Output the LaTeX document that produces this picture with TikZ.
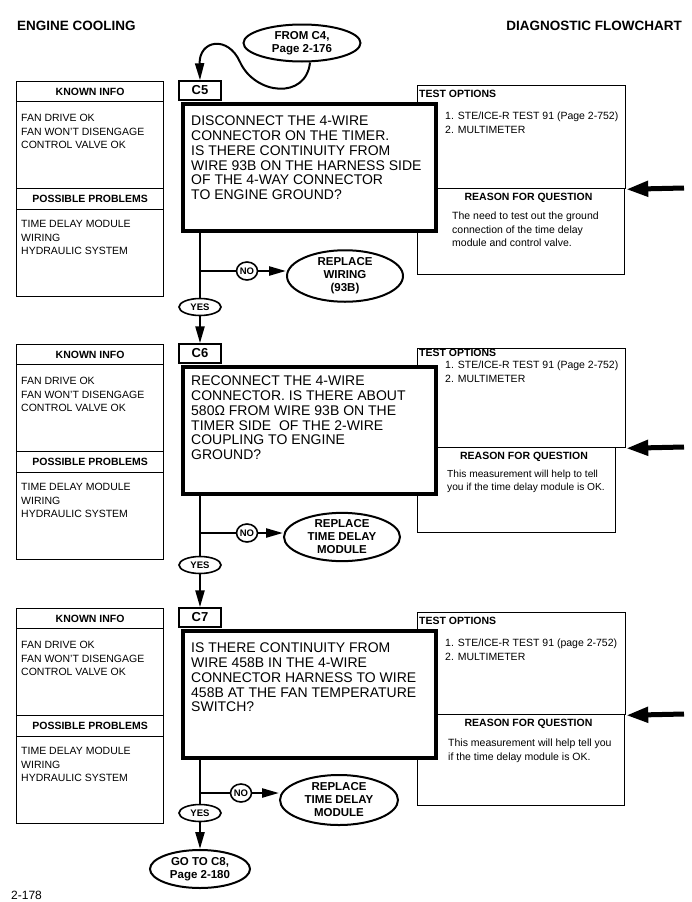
\documentclass[tikz,border=0pt]{standalone}
\usepackage{fontspec}
\setmainfont{Liberation Sans}
\usetikzlibrary{shapes.geometric,arrows.meta}

\begin{document}
\begin{tikzpicture}[x=1pt,y=-1pt,
    infobox/.style={draw, line width=1.3pt, inner sep=0pt, anchor=north west},
    hdrbox/.style={infobox, font=\bfseries\fontsize{10.5}{12}\selectfont},
    smalltxt/.style={anchor=north west, inner sep=0pt, align=left, font=\fontsize{10.5}{13.5}\selectfont},
    boldtxt/.style={inner sep=0pt, font=\bfseries\fontsize{10.5}{12}\selectfont},
    headline/.style={inner sep=0pt, font=\bfseries\fontsize{13.5}{14}\selectfont},
    clabel/.style={draw, line width=1.5pt, minimum width=42pt, minimum height=19pt, inner sep=0pt, font=\bfseries\fontsize{13}{13}\selectfont},
    qbox/.style={draw, line width=4pt, fill=white, anchor=north west, inner sep=0pt, minimum width=253pt, minimum height=127pt},
    qtext/.style={anchor=north west, inner sep=0pt, align=left, font=\fontsize{14}{14.7}\selectfont},
    oval/.style={draw, ellipse, line width=2pt, inner sep=0pt, align=center, font=\bfseries\fontsize{11.5}{13}\selectfont},
    yesno/.style={draw, ellipse, line width=1.6pt, inner sep=0pt, font=\bfseries\fontsize{9.5}{10}\selectfont},
    wire/.style={line width=2.4pt},
    arr/.style={wire, -{Triangle[length=17pt,width=9pt]}},
    bigarr/.style={line width=5pt, -{Triangle[length=22pt,width=15pt]}}]
\useasboundingbox (0,0) rectangle (692,902);
\fill[white] (0,0) rectangle (692,902);
\clip (0,0) rectangle (692,902);

% page heading
\node[headline, anchor=west] (ttl) at (17,26) {ENGINE COOLING};
\node[headline, anchor=east] (ttr) at (682,26) {DIAGNOSTIC FLOWCHART};

% frames shared by the three steps
\foreach \n/\t/\w/\m/\h/\s in {5/81/207/107/86/13, 6/344/198/103/85/9, 7/608/207/106/91/13}{
  \node[hdrbox, minimum width=147pt, minimum height=20pt] (kh\n) at (16,\t) {KNOWN INFO};
  \node[infobox, minimum width=147pt, minimum height=87pt] (kb\n) at (16,{\t+20}) {};
  \node[hdrbox, minimum width=147pt, minimum height=21pt] (ph\n) at (16,{\t+107}) {POSSIBLE PROBLEMS};
  \node[infobox, minimum width=147pt, minimum height=87pt] (pb\n) at (16,{\t+128}) {};
  \node[smalltxt] (kt\n) at (21,{\t+33}) {FAN DRIVE OK\\FAN WON'T DISENGAGE\\CONTROL VALVE OK};
  \node[smalltxt] (pt\n) at (21,{\t+139}) {TIME DELAY MODULE\\WIRING\\HYDRAULIC SYSTEM};
  \node[infobox, minimum width=208pt, minimum height={(\m-4)*1pt}] (to\n) at (417,{\t+4}) {};
  \node[infobox, minimum width={\w*1pt}, minimum height={\h*1pt}] (rq\n) at (417,{\t+\m}) {};
  \node[boldtxt, anchor=west] (tl\n) at (419,{\t+\s}) {TEST OPTIONS};
  \node[boldtxt] (rl\n) at ({417+\w/2+8},{\t+\m+10}) {REASON FOR QUESTION};
  \node[qbox] (q\n) at (181,{\t+21}) {};
  \node[clabel] (c\n) at (200,{\t+9.5}) {C\n};
  \coordinate (ra\n) at (684,{\t+\m});
  \draw[bigarr] (ra\n) -- (to\n.south east);
}

% entry
\node[oval, minimum width=117pt, minimum height=37pt] (from) at (302,43) {FROM C4,\\Page 2-176};
\draw[line width=2pt, -{Triangle[length=17pt,width=9pt]}] ([xshift=8pt]from.south)
  .. controls (306,100) and (255,95) .. (240,62)
  .. controls (228,35) and (199,40) .. (c5.north);

% step C5
\node[qtext] (qt5) at (191,116) {DISCONNECT THE 4-WIRE\\CONNECTOR ON THE TIMER.\\IS THERE CONTINUITY FROM\\WIRE 93B ON THE HARNESS SIDE\\OF THE 4-WAY CONNECTOR\\TO ENGINE GROUND?};
\node[smalltxt] (ti5) at (445,112) {1. STE/ICE-R TEST 91 (Page 2-752)\\2. MULTIMETER};
\node[smalltxt] (ri5) at (452,212) {The need to test out the ground\\connection of the time delay\\module and control valve.};
\node[yesno, minimum width=21pt, minimum height=18pt] (no5) at (247,271) {NO};
\node[oval, minimum width=116pt, minimum height=46pt] (rep5) at (345,276) {REPLACE\\WIRING\\(93B)};
\node[yesno, minimum width=42pt, minimum height=17pt] (yes5) at (200,307) {YES};
\coordinate (b5) at (200,271);
\draw[wire] (q5.south -| b5) -- (yes5);
\draw[wire, line width=1.8pt] (b5) -- (no5);
\draw[arr] (no5) -- (no5 -| rep5.west);
\draw[arr] (yes5) -- (c6);

% step C6
\node[qtext] (qt6) at (191,376) {RECONNECT THE 4-WIRE\\CONNECTOR. IS THERE ABOUT\\580Ω FROM WIRE 93B ON THE\\TIMER SIDE\ \ OF THE 2-WIRE\\COUPLING TO ENGINE\\GROUND?};
\node[smalltxt] (ti6) at (445,361) {1. STE/ICE-R TEST 91 (Page 2-752)\\2. MULTIMETER};
\node[smalltxt, font=\fontsize{10.2}{13}\selectfont] (ri6) at (447,470) {This measurement will help to tell\\you if the time delay module is OK.};
\node[yesno, minimum width=21pt, minimum height=18pt] (no6) at (247,533) {NO};
\node[oval, minimum width=116pt, minimum height=48pt] (rep6) at (342,537) {REPLACE\\TIME DELAY\\MODULE};
\node[yesno, minimum width=42pt, minimum height=17pt] (yes6) at (200,565) {YES};
\coordinate (b6) at (200,533);
\draw[wire] (q6.south -| b6) -- (yes6);
\draw[wire, line width=1.8pt] (b6) -- (no6);
\draw[arr] (no6) -- (no6 -| rep6.west);
\draw[arr] (yes6) -- (c7);

% step C7
\node[qtext] (qt7) at (191,643) {IS THERE CONTINUITY FROM\\WIRE 458B IN THE 4-WIRE\\CONNECTOR HARNESS TO WIRE\\458B AT THE FAN TEMPERATURE\\SWITCH?};
\node[smalltxt] (ti7) at (445,639) {1. STE/ICE-R TEST 91 (page 2-752)\\2. MULTIMETER};
\node[smalltxt] (ri7) at (448,739) {This measurement will help tell you\\if the time delay module is OK.};
\node[yesno, minimum width=21pt, minimum height=18pt] (no7) at (241,793) {NO};
\node[oval, minimum width=118pt, minimum height=50pt] (rep7) at (339,800) {REPLACE\\TIME DELAY\\MODULE};
\node[yesno, minimum width=42pt, minimum height=17pt] (yes7) at (200,813) {YES};
\coordinate (b7) at (200,793);
\draw[wire] (q7.south -| b7) -- (yes7);
\draw[wire, line width=1.8pt] (b7) -- (no7);
\draw[arr] (no7) -- (no7 -| rep7.west);

% exit
\node[oval, minimum width=100pt, minimum height=38pt] (go) at (200,869) {GO TO C8,\\Page 2-180};
\draw[arr] (yes7) -- (go);

\node[anchor=north west, inner sep=0pt, font=\fontsize{12}{12}\selectfont] (pg) at (11,891) {2-178};
\end{tikzpicture}
\end{document}
